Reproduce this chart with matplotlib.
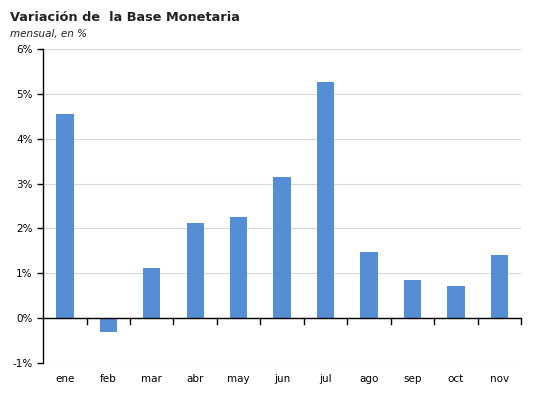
import numpy as np
import matplotlib.pyplot as plt
from matplotlib.ticker import FuncFormatter

meses = ["ene", "feb", "mar", "abr", "may", "jun", "jul", "ago", "sep", "oct", "nov"]
variacion = [4.54, -0.31, 1.11, 2.12, 2.25, 3.14, 5.26, 1.47, 0.85, 0.71, 1.40]

fig = plt.figure(figsize=(5.33, 3.95), dpi=100)
ax = fig.add_axes([0.081, 0.081, 0.8965, 0.795])

x = np.arange(len(meses))
ax.bar(x, variacion, width=0.4, color="#558ED5", zorder=3)

ax.set_xlim(-0.5, len(meses) - 0.5)
ax.set_ylim(-1, 6)
ax.set_yticks(range(-1, 7))
ax.yaxis.set_major_formatter(FuncFormatter(lambda v, p: f"{v:.0f}%"))
ax.grid(axis="y", color="#d9d9d9", linewidth=0.8, zorder=0)
ax.axhline(0, color="black", linewidth=1, zorder=4)

for s in ["top", "right", "bottom"]:
    ax.spines[s].set_visible(False)
ax.spines["left"].set_linewidth(1)

# etiquetas de meses bajo el eje, ticks en los limites de categoria sobre la linea de 0
ax.set_xticks(x)
ax.set_xticklabels(meses, fontsize=7.5)
ax.tick_params(axis="x", length=0, pad=8)
for b in np.arange(-0.5, len(meses), 1.0)[1:]:
    ax.plot([b, b], [0, -0.12], color="black", linewidth=1, clip_on=False, zorder=4)
ax.tick_params(axis="y", labelsize=7.5, length=4, width=1, direction="out")

fig.text(0.019, 0.955, "Variación de  la Base Monetaria", fontsize=9.3,
         fontweight="bold", color="#222222", va="center")
fig.text(0.019, 0.915, "mensual, en %", fontsize=7.5, style="italic",
         color="#222222", va="center")

fig.savefig("out.png", dpi=100)
